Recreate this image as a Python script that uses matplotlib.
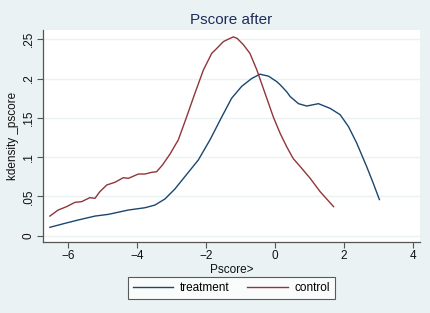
import numpy as np
import matplotlib
matplotlib.use("Agg")
import matplotlib.pyplot as plt

# values
treat_x = [-6.54, -6.10, -5.72, -5.23, -4.84, -4.26, -3.78, -3.49, -3.20, -2.91, -2.66,
           -2.23, -1.89, -1.55, -1.26, -0.97, -0.68, -0.44, -0.19, 0.05, 0.15, 0.34,
           0.44, 0.68, 0.92, 1.26, 1.60, 1.89, 2.13, 2.37, 2.66, 2.85, 3.03]
treat_y = [0.0107, 0.0158, 0.020, 0.025, 0.0272, 0.0327, 0.0356, 0.039, 0.0467, 0.0594, 0.073,
           0.0963, 0.122, 0.151, 0.175, 0.190, 0.200, 0.2055, 0.203, 0.196, 0.192, 0.183,
           0.177, 0.168, 0.165, 0.168, 0.162, 0.154, 0.139, 0.118, 0.088, 0.067, 0.046]

ctrl_x = [-6.54, -6.30, -6.06, -5.81, -5.62, -5.38, -5.23, -5.09, -4.89, -4.65, -4.41,
          -4.26, -3.97, -3.78, -3.58, -3.44, -3.27, -3.05, -2.81, -2.57, -2.33, -2.08,
          -1.84, -1.70, -1.50, -1.36, -1.21, -1.10, -0.92, -0.73, -0.53, -0.29, -0.05,
          0.15, 0.34, 0.53, 0.77, 1.02, 1.31, 1.70]
ctrl_y = [0.025, 0.0327, 0.0369, 0.0425, 0.0433, 0.0484, 0.0476, 0.056, 0.0645, 0.068, 0.0738,
          0.073, 0.0785, 0.0785, 0.0807, 0.0814, 0.090, 0.104, 0.122, 0.151, 0.181, 0.211,
          0.232, 0.238, 0.247, 0.250, 0.253, 0.251, 0.243, 0.232, 0.211, 0.181, 0.151,
          0.130, 0.113, 0.098, 0.086, 0.073, 0.056, 0.037]

x_ticks = [-6, -4, -2, 0, 2, 4]
y_ticks = [0, 0.05, 0.1, 0.15, 0.2, 0.25]
y_tick_labels = ["0", ".05", ".1", ".15", ".2", ".25"]

plt.rcParams["font.family"] = ["Liberation Sans", "DejaVu Sans"]

bg = "#eaf2f3"
fig = plt.figure(figsize=(4.31, 3.13), dpi=100, facecolor=bg)
ax = fig.add_axes([0.0998, 0.2268, 0.8747, 0.6773])
ax.set_facecolor("white")

for v in y_ticks:
    ax.axhline(v, color=bg, lw=1.0, zorder=0)

ax.plot(treat_x, treat_y, color="#1a476f", lw=1.0, label="treatment")
ax.plot(ctrl_x, ctrl_y, color="#90353b", lw=1.0, label="control")

ax.set_xlim(-6.74, 4.21)
ax.set_ylim(-0.008, 0.2617)
ax.set_xticks(x_ticks)
ax.set_yticks(y_ticks)
ax.set_yticklabels(y_tick_labels, rotation=90, va="center")
ax.tick_params(direction="out", length=4, width=0.8, color="#555555",
               labelsize=8.5, labelcolor="#111111", pad=2)

for side in ["top", "right"]:
    ax.spines[side].set_visible(False)
for side in ["left", "bottom"]:
    ax.spines[side].set_color("#555555")
    ax.spines[side].set_linewidth(0.9)

ax.set_xlabel("Pscore>", fontsize=8.5, color="#111111", labelpad=1)
ax.set_ylabel("kdensity _pscore", fontsize=8.5, color="#111111", labelpad=3)
ax.set_title("Pscore after", fontsize=11, color="#1e2d5a", pad=4)

leg = fig.legend(loc="center", bbox_to_anchor=(0.537, 0.08), ncol=2, frameon=True,
                 fontsize=8.5, fancybox=False, handlelength=3.4, columnspacing=1.5,
                 borderpad=0.4, handletextpad=0.6, borderaxespad=0)
leg.get_frame().set_edgecolor("#333333")
leg.get_frame().set_linewidth(0.8)

fig.savefig("out.png", dpi=100, facecolor=bg)
